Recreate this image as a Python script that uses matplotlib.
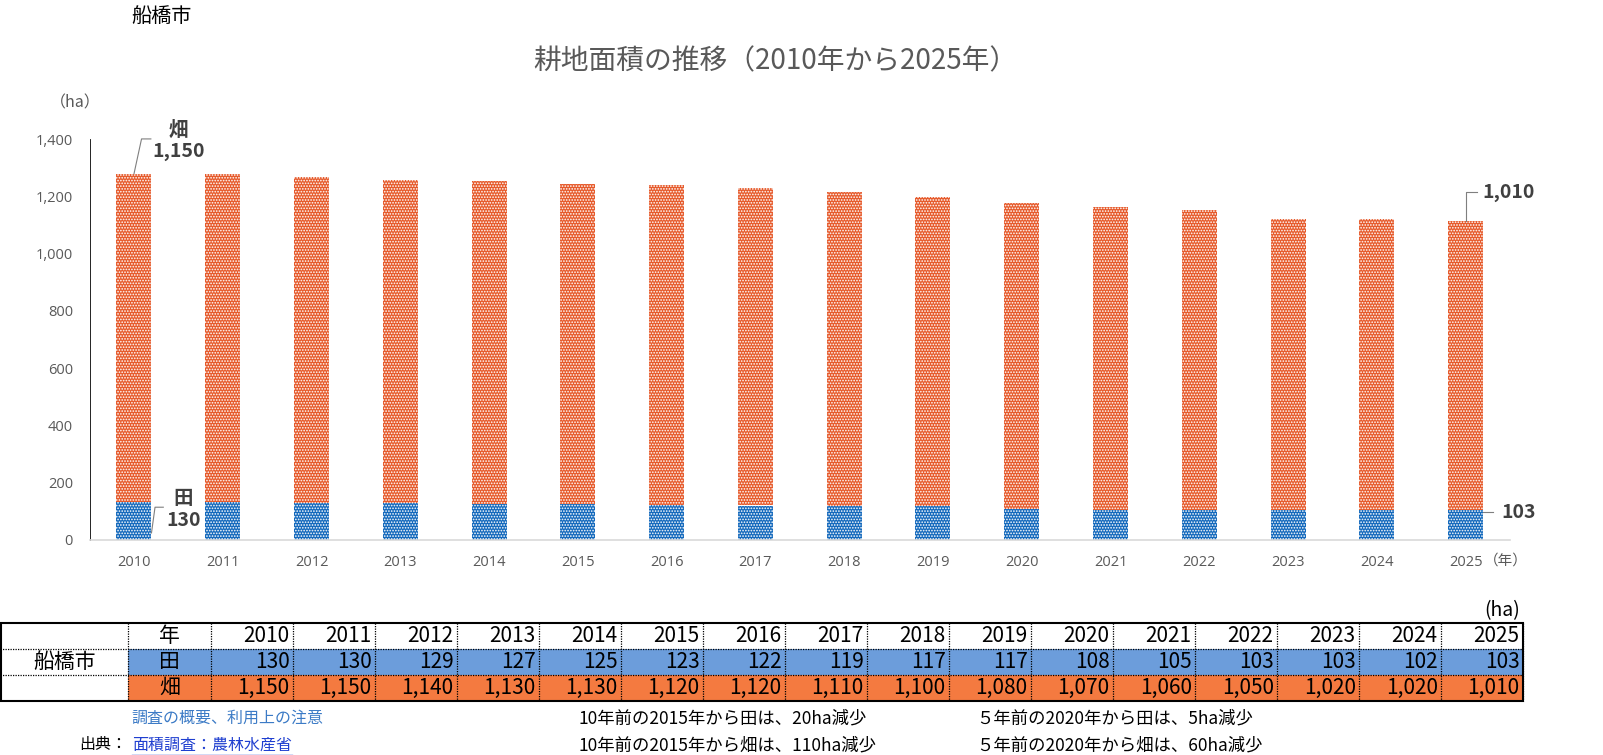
import numpy as np
import matplotlib
matplotlib.use("Agg")
import matplotlib.pyplot as plt
from matplotlib.lines import Line2D

plt.rcParams['font.family'] = ['Noto Sans CJK JP', 'DejaVu Sans']
plt.rcParams['hatch.linewidth'] = 0.8

# data
years = list(range(2010, 2026))
ta = [130, 130, 129, 127, 125, 123, 122, 119, 117, 117, 108, 105, 103, 103, 102, 103]
hata = [1150, 1150, 1140, 1130, 1130, 1120, 1120, 1110, 1100, 1080, 1070, 1060, 1050, 1020, 1020, 1010]
city = "船橋市"
title = "耕地面積の推移（2010年から2025年）"
row_names = ["田", "畑"]
notes_mid = ["10年前の2015年から田は、20ha減少", "10年前の2015年から畑は、110ha減少"]
notes_right = ["５年前の2020年から田は、5ha減少", "５年前の2020年から畑は、60ha減少"]

W, H = 1603, 755
fig = plt.figure(figsize=(W / 100, H / 100), dpi=100)

# pixel overlay for the table and loose texts
ov = fig.add_axes([0, 0, 1, 1])
ov.set_xlim(0, W)
ov.set_ylim(H, 0)
ov.axis('off')

# bar chart
ax = fig.add_axes([89.6 / W, 1 - 539.5 / H, (1510 - 89.6) / W, 400 / H])
x = np.arange(len(years))
bw = 0.394
ax.bar(x, ta, bw, color='#1469BC', edgecolor='white', linewidth=0, hatch='......')
ax.bar(x, hata, bw, bottom=ta, color='#E65A2B', edgecolor='white', linewidth=0, hatch='......')
ax.set_xlim(-0.5, len(years) - 0.5)
ax.set_ylim(0, 1400)
ax.set_yticks(range(0, 1401, 200))
ax.set_yticklabels([f"{v:,}" for v in range(0, 1401, 200)])
ax.set_xticks(x)
ax.set_xticklabels([str(y) for y in years])
ax.tick_params(axis='both', length=0, labelsize=10.5, labelcolor='#595959')
ax.tick_params(axis='y', pad=12)
ax.tick_params(axis='x', pad=11)
for lab in ax.get_xticklabels() + ax.get_yticklabels():
    lab.set_family(['Open Sans', 'DejaVu Sans'])
for s in ['top', 'right']:
    ax.spines[s].set_visible(False)
ax.spines['bottom'].set_color('#D9D9D9')
ax.spines['bottom'].set_linewidth(1.2)
ax.spines['left'].set_color('black')
ax.spines['left'].set_linewidth(0.6)

# data labels with leader lines
tot = [a + b for a, b in zip(ta, hata)]
lab_kw = dict(fontsize=14, color='#404040', fontweight='bold', clip_on=False)
lc = '#7F7F7F'
ax.add_line(Line2D([0.0, 0.085, 0.19], [tot[0], tot[0] + 122, tot[0] + 122], color=lc, lw=0.8, clip_on=False))
ax.text(0.5, tot[0] + 153, row_names[1], ha='center', va='center', **lab_kw)
ax.text(0.5, tot[0] + 78, f"{hata[0]:,}", ha='center', va='center', **lab_kw)
ax.add_line(Line2D([0.197, 0.237, 0.33], [23, 113, 113], color=lc, lw=0.8, clip_on=False))
ax.text(0.55, ta[0] + 14, row_names[0], ha='center', va='center', **lab_kw)
ax.text(0.56, ta[0] - 62, f"{ta[0]}", ha='center', va='center', **lab_kw)
ax.add_line(Line2D([15.0, 15.0, 15.124], [tot[-1], tot[-1] + 104, tot[-1] + 104], color=lc, lw=0.8, clip_on=False))
ax.text(15.19, tot[-1] + 101, f"{hata[-1]:,}", ha='left', va='center', **lab_kw)
ax.add_line(Line2D([15.197, 15.31], [ta[-1] - 6, ta[-1] - 6], color=lc, lw=0.8, clip_on=False))
ax.text(15.4, ta[-1] - 10, f"{ta[-1]}", ha='left', va='center', **lab_kw)

# titles and unit labels
ov.text(131, 16, city, fontsize=14.5, ha='left', va='center', color='black')
ov.text(775, 61, title, fontsize=20, ha='center', va='center', color='#595959')
ov.text(75, 103, "（ha）", fontsize=11.5, ha='center', va='center', color='#595959')
ov.text(1484, 561, "（年）", fontsize=10.5, ha='left', va='center', color='#595959')

# table
top, r1, r2, bot = 623.3, 649.3, 675.3, 700.7
c0, c1, cw = 128.3, 210.7, 82.0
right = c1 + cw * len(years)
blue, orange = '#6C9DDB', '#F47A40'
ov.add_patch(plt.Rectangle((c0, r1), right - c0, r2 - r1, color=blue, lw=0))
ov.add_patch(plt.Rectangle((c0, r2), right - c0, bot - r2, color=orange, lw=0))
dot = dict(color='black', lw=0.9, linestyle=(0, (1, 1)))
for yy in (r1, r2):
    ov.plot([0, right], [yy, yy], **dot)
for k in range(len(years) + 1):
    ov.plot([c1 + cw * k] * 2, [top, bot], **dot)
ov.plot([c0, c0], [top, bot], **dot)
ov.add_patch(plt.Rectangle((0.8, top), right - 0.8, bot - top, fill=False, ec='black', lw=1.5))

tfs = 15
ov.text(c0 / 2, (r1 + r2) / 2, city, fontsize=tfs, ha='center', va='center')
ov.text((c0 + c1) / 2, (top + r1) / 2, "年", fontsize=tfs, ha='center', va='center')
ov.text((c0 + c1) / 2, (r1 + r2) / 2, row_names[0], fontsize=tfs, ha='center', va='center')
ov.text((c0 + c1) / 2, (r2 + bot) / 2, row_names[1], fontsize=tfs, ha='center', va='center')
for i, yr in enumerate(years):
    xr = c1 + cw * (i + 1) - 3
    ov.text(xr, (top + r1) / 2, str(yr), fontsize=tfs, ha='right', va='center')
    ov.text(xr, (r1 + r2) / 2, f"{ta[i]:,}", fontsize=tfs, ha='right', va='center')
    ov.text(xr, (r2 + bot) / 2, f"{hata[i]:,}", fontsize=tfs, ha='right', va='center')
ov.text(right - 3, 611, "(ha)", fontsize=14, ha='right', va='center')

# notes under the table
ov.text(131.7, 718, "調査の概要、利用上の注意", fontsize=11.5, color='#3C7BC6', ha='left', va='center')
ov.text(127, 745, "出典：", fontsize=11.5, color='black', ha='right', va='center')
src = ov.text(131.7, 745, "面積調査：農林水産省", fontsize=11.5, color='#1F3FD0', ha='left', va='center')
for j in range(2):
    ov.text(578, 718 + 27 * j, notes_mid[j], fontsize=12.5, ha='left', va='center')
    ov.text(976, 718 + 27 * j, notes_right[j], fontsize=12.5, ha='left', va='center')

fig.canvas.draw()
bb = src.get_window_extent()
ov.plot([bb.x0, bb.x1], [H - bb.y0 + 1, H - bb.y0 + 1], color='#1F3FD0', lw=1)

fig.savefig('out.png', dpi=100)
